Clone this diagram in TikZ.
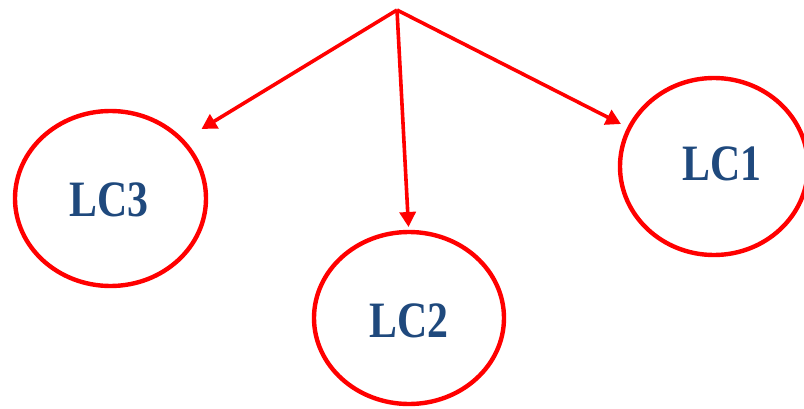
\documentclass[tikz,border=0pt]{standalone}
\usepackage{fontspec}
\setmainfont{Liberation Serif}[FakeStretch=0.82]
\usetikzlibrary{arrows.meta}
\definecolor{lcred}{HTML}{FF0000}
\definecolor{lcblue}{HTML}{1F497D}
\tikzset{
  lcring/.style={draw=lcred, line width=4.4pt},
  lclabel/.style={text=lcblue, font=\fontsize{51}{51}\selectfont\bfseries},
  lcarrow/.style={draw=lcred, line width=3.6pt, -{Triangle[length=15pt,width=16pt]}}
}
\begin{document}
\begin{tikzpicture}[x=1pt,y=1pt]
  \useasboundingbox (0,0) rectangle (804,408);
  % circles
  \draw[lcring] (110.5,209.5) ellipse [x radius=95.5, y radius=87.5];
  \draw[lcring] (409,90) ellipse [x radius=95, y radius=86];
  \draw[lcring] (714,241.5) ellipse [x radius=94, y radius=88.5];
  % labels
  \node[lclabel] (lc3) at (109,208) {LC3};
  \node[lclabel] (lc2) at (409,87) {LC2};
  \node[lclabel] (lc1) at (722,244) {LC1};
  % arrows from the common top point
  \coordinate (top) at (397,398);
  \coordinate (t3) at (201.5,279);
  \coordinate (t2) at (408.5,181);
  \coordinate (t1) at (621,284);
  \draw[lcarrow] (top) -- (t3);
  \draw[lcarrow] (top) -- (t2);
  \draw[lcarrow] (top) -- (t1);
\end{tikzpicture}
\end{document}
